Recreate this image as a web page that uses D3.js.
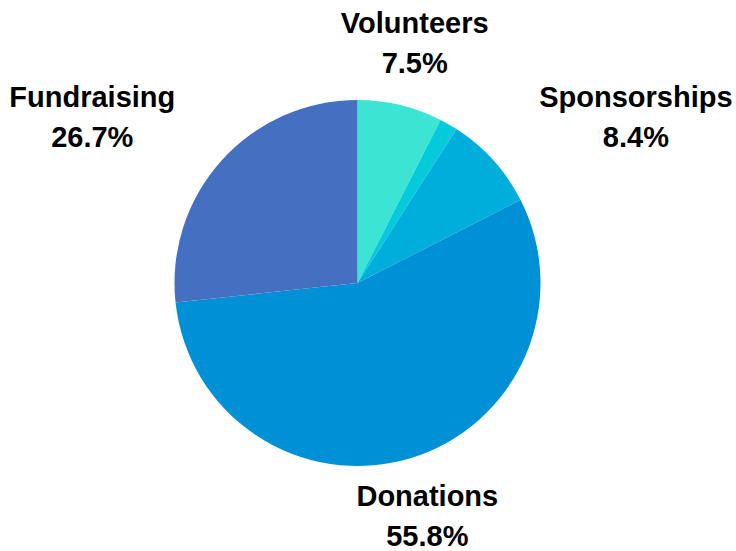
<!DOCTYPE html>
<html>
<head>
<meta charset="utf-8">
<script src="https://cdn.jsdelivr.net/npm/d3@7"></script>
<style>
  html, body { margin: 0; padding: 0; background: #fff; }
  #chart { width: 736px; height: 551px; }
</style>
</head>
<body>
<div id="chart"></div>
<script>
// 数据
const categories = ['Volunteers', 'Other', 'Sponsorships', 'Donations', 'Fundraising'];
const values = [7.5, 1.6, 8.4, 55.8, 26.7];
const showLabel = [true, false, true, true, true];
const colors = ['#3ce4d4', '#05cadc', '#00aedc', '#0090d6', '#4570c1'];

function createPie(container) {
    d3.select(container).selectAll('*').remove();

    const width = 736;
    const height = 551;
    const cx = 357.5, cy = 283, radius = 183;
    const labelRadius = 245;

    const svg = d3.select(container)
        .append('svg')
        .attr('width', width)
        .attr('height', height);

    const g = svg.append('g')
        .attr('transform', `translate(${cx},${cy})`);

    const total = d3.sum(values);
    const data = categories.map((c, i) => ({ name: c, value: values[i], color: colors[i], show: showLabel[i] }));

    const pie = d3.pie().sort(null).value(d => d.value);
    const arc = d3.arc().innerRadius(0).outerRadius(radius);
    const arcs = pie(data);

    // 扇区
    g.selectAll('path')
        .data(arcs)
        .enter()
        .append('path')
        .attr('d', arc)
        .attr('fill', d => d.data.color);

    // 标签
    const label = g.selectAll('text')
        .data(arcs.filter(d => d.data.show))
        .enter()
        .append('text')
        .attr('font-family', '"Liberation Sans", Arial, sans-serif')
        .attr('font-weight', 'bold')
        .attr('font-size', '29px')
        .attr('fill', '#000')
        .attr('text-anchor', 'middle');

    label.append('tspan')
        .attr('class', 'l1')
        .attr('x', 0)
        .attr('y', -12)
        .text(d => d.data.name);

    label.append('tspan')
        .attr('class', 'l2')
        .attr('x', 0)
        .attr('y', 28)
        .text(d => (d.data.value / total * 100).toFixed(1) + '%');

    // 侧边标签按块宽度偏移
    label.attr('transform', function(d) {
        const a = (d.startAngle + d.endAngle) / 2;
        const s = Math.sin(a);
        const w = d3.max(d3.select(this).selectAll('tspan').nodes(), n => n.getComputedTextLength());
        let x = labelRadius * s;
        if (s > 0.5) x += w / 2;
        else if (s < -0.5) x -= w / 2;
        return `translate(${x},${-labelRadius * Math.cos(a)})`;
    });
}

createPie(document.getElementById('chart'));
</script>
</body>
</html>
